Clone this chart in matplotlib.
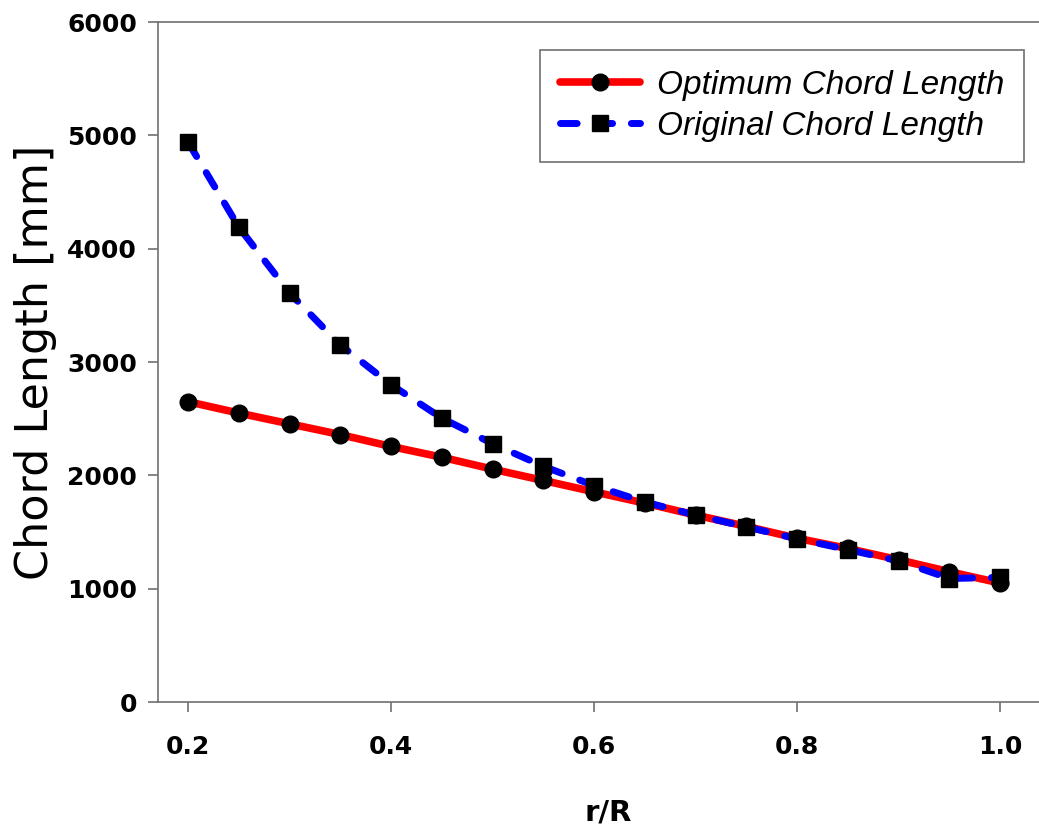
import numpy as np
import matplotlib
matplotlib.use("Agg")
import matplotlib.pyplot as plt

# radial stations and chord lengths
r_R = [0.20, 0.25, 0.30, 0.35, 0.40, 0.45, 0.50, 0.55, 0.60,
       0.65, 0.70, 0.75, 0.80, 0.85, 0.90, 0.95, 1.00]
chord_opt = [2650, 2550, 2455, 2360, 2255, 2160, 2055, 1955, 1855,
             1755, 1650, 1550, 1445, 1355, 1255, 1150, 1050]
chord_orig = [4940, 4190, 3610, 3150, 2800, 2505, 2280, 2080, 1910,
              1765, 1650, 1545, 1440, 1345, 1245, 1090, 1100]
xticks = [0.2, 0.4, 0.6, 0.8, 1.0]
yticks = [0, 1000, 2000, 3000, 4000, 5000, 6000]

fig = plt.figure(figsize=(10.39, 8.27), dpi=100)
ax = fig.add_axes([0.1521, 0.1511, 0.8662, 0.8222])

ax.plot(r_R, chord_opt, color='#ff0000', lw=5.5, marker='o', ms=12,
        mfc='black', mec='black', solid_capstyle='round',
        label='Optimum Chord Length')
ax.plot(r_R, chord_orig, color='#0000ff', lw=5, ls=(0, (2.4, 2.7)),
        dash_capstyle='round', marker='s', ms=12, mfc='black', mec='black',
        label='Original Chord Length')

ax.set_xlim(0.1704, 1.057)
ax.set_ylim(0, 6000)
ax.set_xticks(xticks)
ax.set_xticklabels(['0.2', '0.4', '0.6', '0.8', '1.0'])
ax.set_yticks(yticks)

for s in ['left', 'bottom', 'top']:
    ax.spines[s].set_color('#707070')
    ax.spines[s].set_linewidth(1.2)
ax.spines['right'].set_visible(False)

ax.tick_params(axis='both', direction='out', length=7, width=1.2,
               color='#707070', labelsize=18)
ax.tick_params(axis='x', pad=17)
ax.tick_params(axis='y', pad=8)
for lab in ax.get_xticklabels() + ax.get_yticklabels():
    lab.set_fontweight('bold')

ax.set_xlabel('r/R', fontsize=21, fontweight='bold', va='center')
ax.xaxis.set_label_coords(0.5, -0.162)
ax.set_ylabel('Chord Length [mm]', fontsize=32)
ax.yaxis.set_label_coords(-0.112, 0.5)

leg = ax.legend(loc='upper left', bbox_to_anchor=(0.4244, 0.9588),
                borderaxespad=0, fancybox=False, framealpha=1,
                edgecolor='#707070', handlelength=2.4, handletextpad=0.5,
                labelspacing=0.3, borderpad=0.6,
                prop={'family': 'Liberation Sans', 'style': 'italic',
                      'size': 24})
leg.get_frame().set_linewidth(1.2)

fig.savefig('out.png', dpi=100)
